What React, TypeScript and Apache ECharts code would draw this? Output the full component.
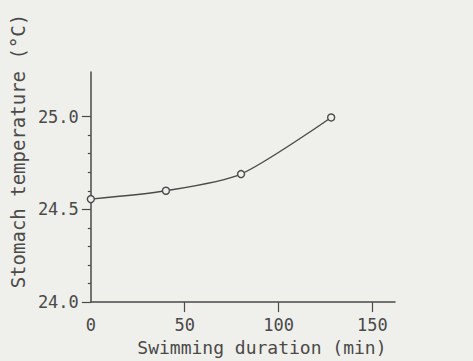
import React, { useEffect, useRef } from "react";
import * as echarts from "echarts";

const durations = [0, 40, 80, 128];
const temps = [24.555, 24.6, 24.69, 24.995];
const xLabelValues = [0, 50, 100, 150];
const xTickValues = [50, 100, 150];
const yLabelValues = [24.0, 24.5, 25.0];
const yMinorValues = [24.1, 24.2, 24.3, 24.4, 24.6, 24.7, 24.8, 24.9];

const ink = "#4a4a48";
const font = "DejaVu Sans Mono";

export default function App() {
  const ref = useRef<HTMLDivElement>(null);
  useEffect(() => {
    if (!ref.current) return;
    const chart = echarts.init(ref.current, undefined, { renderer: "svg" });
    chart.setOption({
      animation: false,
      backgroundColor: "#efefec",
      grid: { left: 87, right: 78, top: 72, bottom: 56 },
      xAxis: {
        type: "value",
        min: 0,
        max: 162,
        name: "Swimming duration (min)",
        nameLocation: "middle",
        nameGap: 33,
        nameTextStyle: { color: ink, fontFamily: font, fontSize: 18, padding: [0, 0, 0, 38] },
        axisLine: { lineStyle: { color: ink, width: 1.5 } },
        axisTick: { customValues: xTickValues, length: 10, lineStyle: { color: ink, width: 1.2 } },
        axisLabel: {
          customValues: xLabelValues,
          margin: 14,
          color: ink,
          fontFamily: font,
          fontSize: 17,
          formatter: (v: number) => String(v),
        },
        splitLine: { show: false },
      },
      yAxis: [
        {
          type: "value",
          min: 24.0,
          max: 25.24,
          name: "Stomach temperature (°C)",
          nameLocation: "middle",
          nameRotate: 90,
          nameGap: 55,
          nameTextStyle: { color: ink, fontFamily: font, fontSize: 19, padding: [0, 0, 0, 72] },
          axisLine: { show: true, lineStyle: { color: ink, width: 1.5 } },
          axisTick: { customValues: yLabelValues, length: 9, lineStyle: { color: ink, width: 1.2 } },
          axisLabel: {
            customValues: yLabelValues,
            margin: 12,
            color: ink,
            fontFamily: font,
            fontSize: 17,
            formatter: (v: number) => v.toFixed(1),
          },
          splitLine: { show: false },
        },
        {
          type: "value",
          min: 24.0,
          max: 25.24,
          position: "left",
          axisLine: { show: false },
          axisTick: { show: true, customValues: yMinorValues, length: 3, lineStyle: { color: ink, width: 1.2 } },
          axisLabel: { show: false },
          splitLine: { show: false },
        },
      ],
      series: [
        {
          type: "line",
          data: durations.map((d, i) => [d, temps[i]]),
          smooth: 0.25,
          symbol: "circle",
          symbolSize: 7,
          lineStyle: { color: ink, width: 1.4 },
          itemStyle: { color: "#efefec", borderColor: ink, borderWidth: 1.4 },
        },
      ],
    });
    return () => chart.dispose();
  }, []);
  return <div ref={ref} style={{ position: "fixed", left: 0, top: 0, width: 473, height: 361 }} />;
}
